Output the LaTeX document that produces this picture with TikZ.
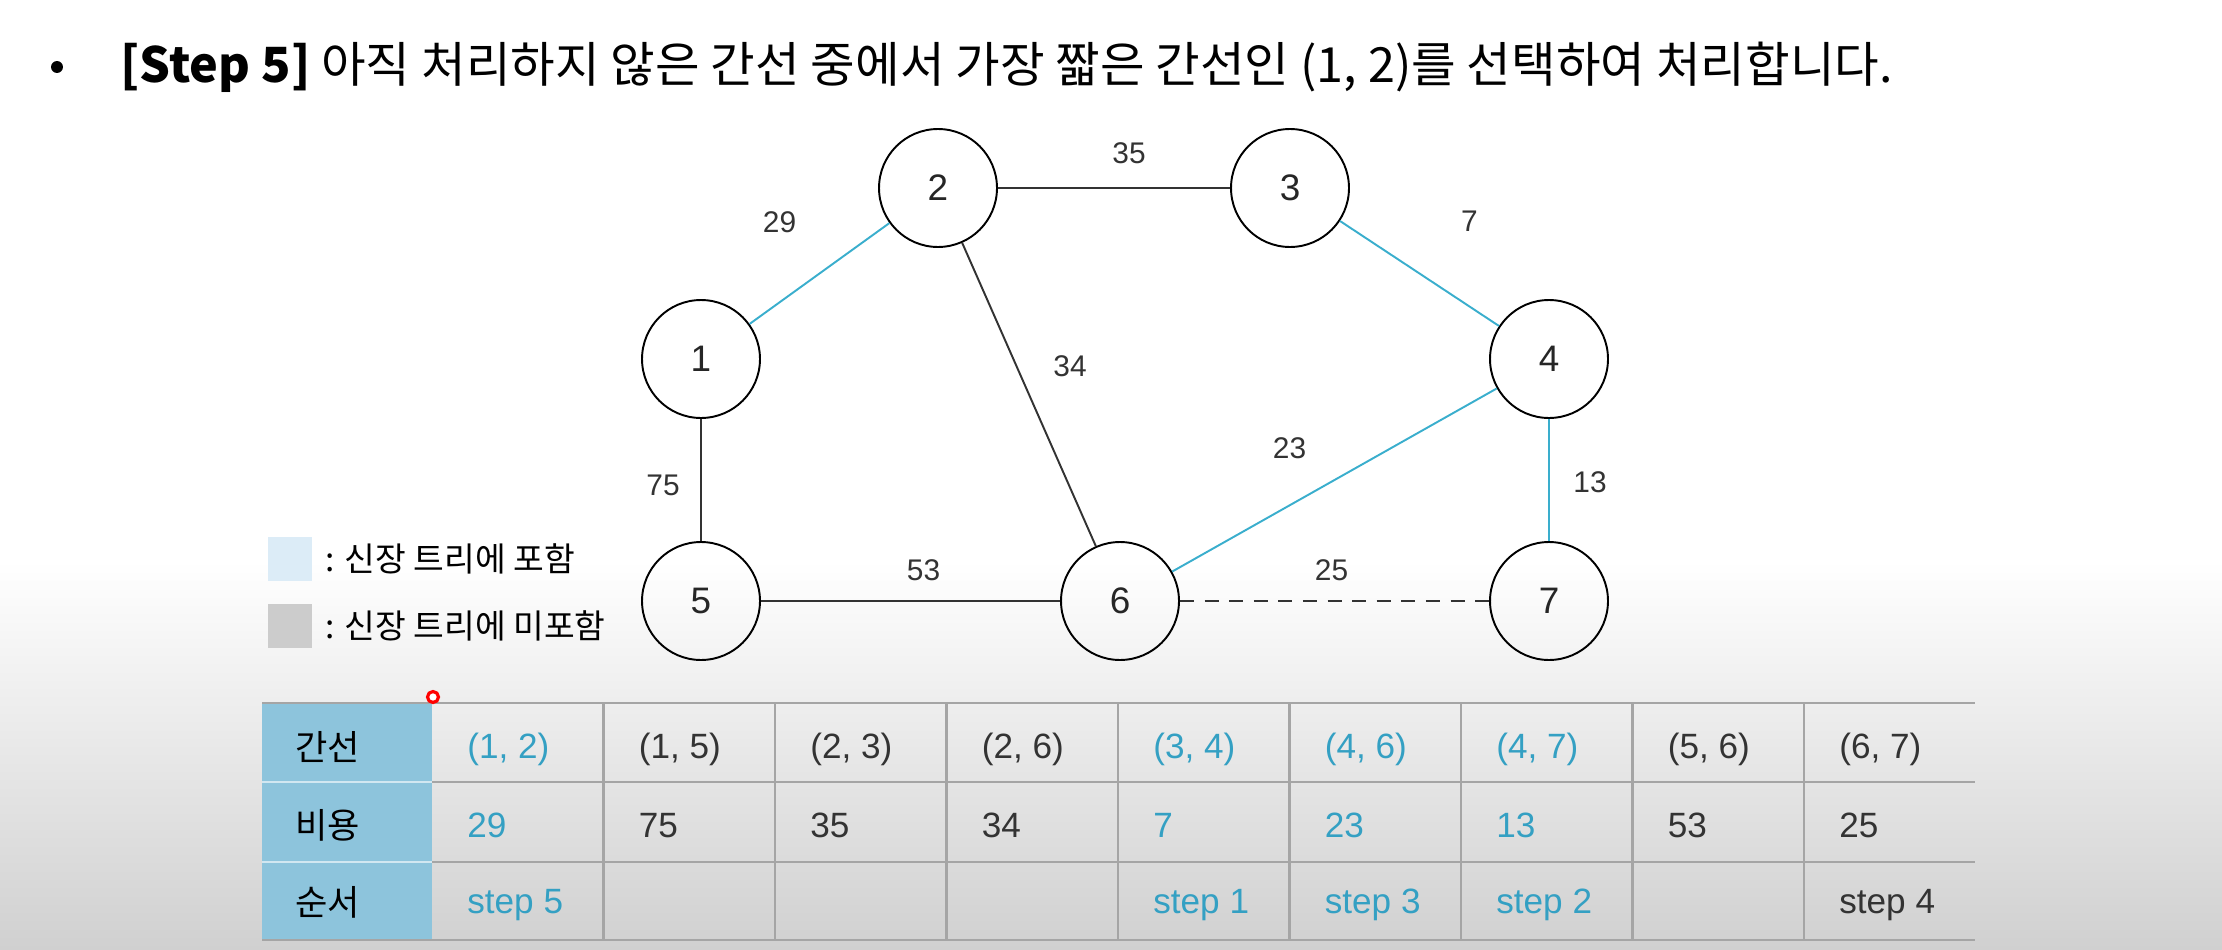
\documentclass[tikz,border=0pt]{standalone}
\usepackage{fontspec}
\setmainfont{Liberation Sans}
\newfontfamily\krfont{Noto Sans CJK KR}
\usetikzlibrary{positioning}
\definecolor{treeblue}{RGB}{58,174,205}
\definecolor{txtblue}{RGB}{52,160,195}
\definecolor{hdrblue}{RGB}{141,196,220}
\definecolor{gridgray}{RGB}{165,165,165}
\definecolor{fadegray}{RGB}{208,208,208}
\definecolor{inkey}{RGB}{220,236,247}
\definecolor{outkey}{RGB}{204,204,204}
\tikzset{
  vtx/.style={draw, circle, line width=1.1pt, minimum size=2.36cm,
    inner sep=0pt, text=black!85, font=\fontsize{21}{25}\selectfont},
  treeedge/.style={treeblue, line width=1.1pt},
  plainedge/.style={black!80, line width=1.1pt},
  skipedge/.style={black!80, line width=1.1pt, dash pattern=on 8pt off 6pt},
  wlbl/.style={text=black!80, font=\fontsize{17}{20}\selectfont},
  keybox/.style={minimum size=0.88cm, inner sep=0pt},
  keytxt/.style={inner sep=0pt, font=\krfont\fontsize{19}{22}\selectfont},
  hdrtxt/.style={anchor=base west, inner sep=0pt, font=\krfont\fontsize{20}{24}\selectfont},
  celltxt/.style={anchor=base west, inner sep=0pt, font=\fontsize{20}{24}\selectfont},
  tblline/.style={gridgray, line width=1.6pt},
}

\begin{document}
\begin{tikzpicture}[x=0.02cm, y=-0.02cm]
  \useasboundingbox (0,0) rectangle (2222,950);
  % faded lower part of the slide
  \shade[top color=white, bottom color=fadegray] (0,560) rectangle (2222,950);

  % title line
  \node[circle, fill=black, inner sep=0pt, minimum size=0.24cm] (dot) at (57,67) {};
  \node[anchor=base west, inner sep=0pt, font=\krfont\fontsize{27.6}{31}\selectfont] (title) at (120,82)
    {\textbf{[Step 5]} 아직 처리하지 않은 간선 중에서 가장 짧은 간선인 (1, 2)를 선택하여 처리합니다.};

  % vertices
  \node[vtx] (v1) at (701,359) {1};
  \node[vtx] (v2) at (938,188) {2};
  \node[vtx] (v3) at (1290,188) {3};
  \node[vtx] (v4) at (1549,359) {4};
  \node[vtx] (v5) at (701,601) {5};
  \node[vtx] (v6) at (1120,601) {6};
  \node[vtx] (v7) at (1549,601) {7};

  % edges
  \draw[treeedge] (v1) -- (v2) node[wlbl, midway, shift={(-40,-51)}] {29};
  \draw[plainedge] (v2) -- (v3) node[wlbl, midway, shift={(15,-35)}] {35};
  \draw[treeedge] (v3) -- (v4) node[wlbl, midway, shift={(50,-52)}] {7};
  \draw[plainedge] (v2) -- (v6) node[wlbl, midway, shift={(41,-28)}] {34};
  \draw[treeedge] (v6) -- (v4) node[wlbl, midway, shift={(-45,-32)}] {23};
  \draw[treeedge] (v4) -- (v7) node[wlbl, midway, shift={(41,2)}] {13};
  \draw[plainedge] (v1) -- (v5) node[wlbl, midway, shift={(-38,5)}] {75};
  \draw[plainedge] (v5) -- (v6) node[wlbl, midway, shift={(13,-31)}] {53};
  \draw[skipedge] (v6) -- (v7) node[wlbl, midway, shift={(-3,-31)}] {25};

  % legend
  \node[keybox, fill=inkey] (keyin) at (290,559) {};
  \node[keytxt, right=0.26cm of keyin] (keyintxt) {: 신장 트리에 포함};
  \node[keybox, fill=outkey] (keyout) at (290,626) {};
  \node[keytxt, right=0.26cm of keyout] (keyouttxt) {: 신장 트리에 미포함};

  % table
  \fill[hdrblue] (262,703) rectangle (432,940);
  \draw[white!60!hdrblue, line width=1.2pt] (262,782) -- (432,782) (262,862) -- (432,862);
  \draw[tblline] (262,703) -- (1975,703);
  \draw[tblline] (262,940) -- (1975,940);
  \foreach \y in {782,862}
    \draw[tblline] (432,\y) -- (1975,\y);
  \foreach \i in {1,...,8}
    \draw[tblline] ({432+171.5*\i},703) -- ({432+171.5*\i},940);

  \node[hdrtxt] (hedge) at (295,760) {간선};
  \node[hdrtxt] (hcost) at (295,838) {비용};
  \node[hdrtxt] (horder) at (295,915) {순서};

  \foreach \e/\c/\s/\tc [count=\i from 0] in {
      {(1, 2)}/29/step 5/txtblue, {(1, 5)}/75//black!80,
      {(2, 3)}/35//black!80, {(2, 6)}/34//black!80,
      {(3, 4)}/7/step 1/txtblue, {(4, 6)}/23/step 3/txtblue,
      {(4, 7)}/13/step 2/txtblue, {(5, 6)}/53//black!80,
      {(6, 7)}/25/step 4/black!80} {
    \node[celltxt, text=\tc] (e\i) at ({467+171.5*\i},758) {\e};
    \node[celltxt, text=\tc] (c\i) at ({467+171.5*\i},837) {\c};
    \node[celltxt, text=\tc] (s\i) at ({467+171.5*\i},913) {\s};
  }

  % pointer mark
  \node[circle, draw=red, fill=white, line width=1.8pt, minimum size=0.22cm, inner sep=0pt] (ptr) at (433,697) {};
\end{tikzpicture}
\end{document}
